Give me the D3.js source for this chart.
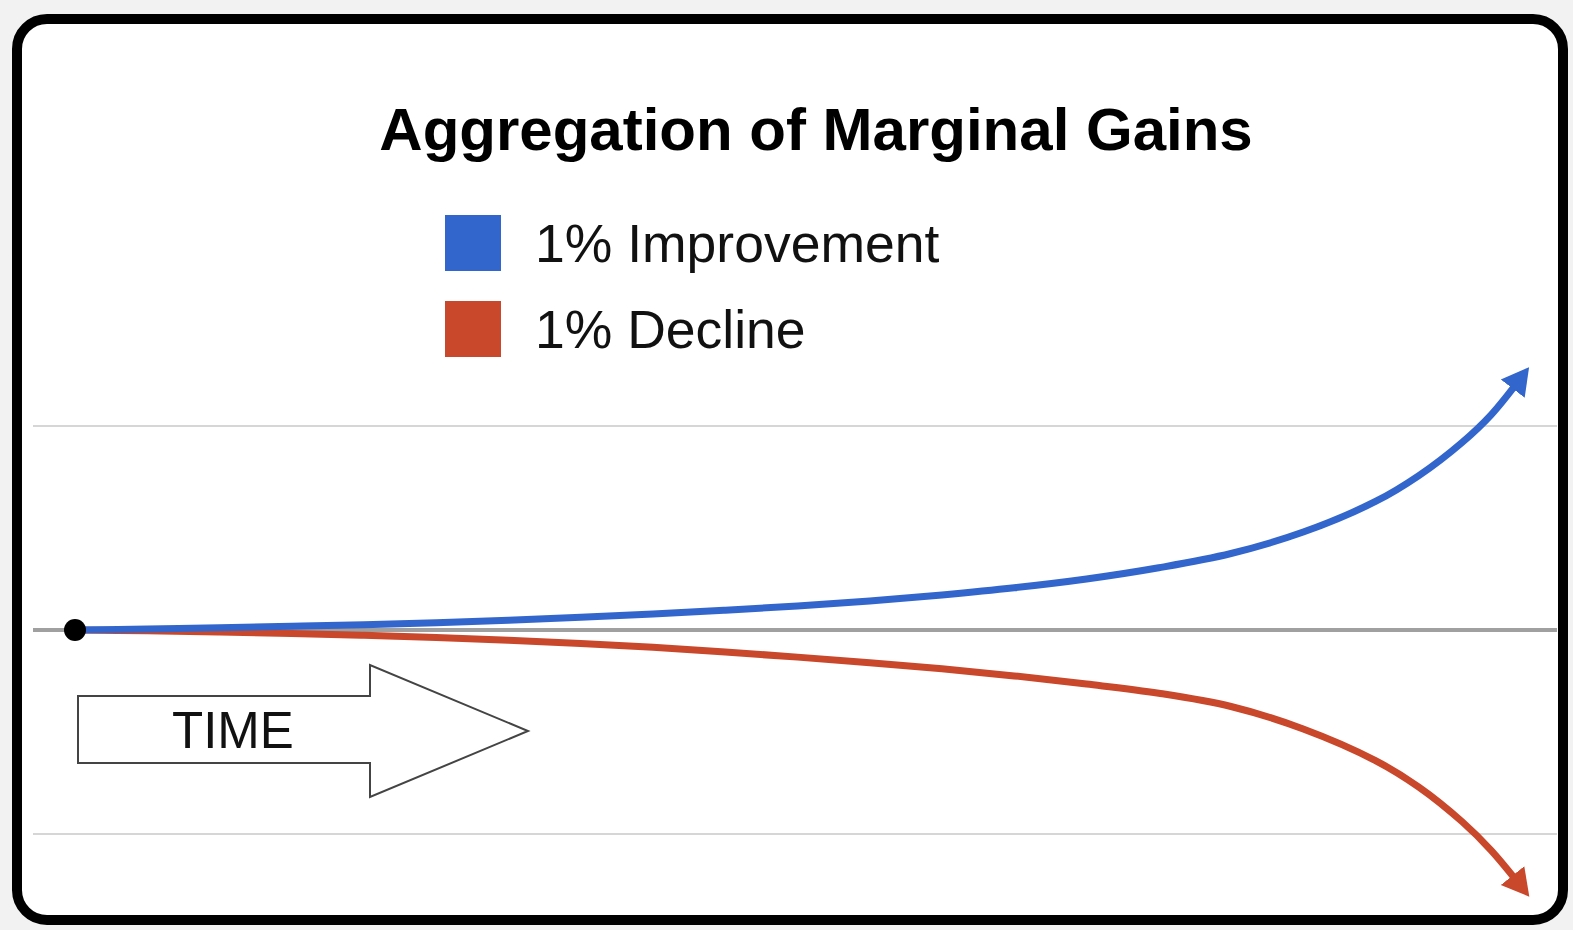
<!DOCTYPE html>
<html>
<head>
<meta charset="utf-8">
<script src="https://cdn.jsdelivr.net/npm/d3@7"></script>
<style>
  html, body { margin: 0; padding: 0; background: #f2f2f2; }
  svg { display: block; }
  text { font-family: "Liberation Sans", Arial, sans-serif; }
</style>
</head>
<body>
<svg id="plot"></svg>
<script>
// time steps (0 = start, 100 = end of curve)
const time = [0, 5, 10, 15, 20, 25, 30, 35, 40, 45, 50, 55, 60, 65, 70, 75, 80, 85, 90, 93, 96, 98, 100];
// growth relative to baseline (gridlines at +1 / -1)
const improvement = [0, 0.005, 0.011, 0.018, 0.026, 0.036, 0.048, 0.062, 0.078, 0.097, 0.118, 0.142, 0.172,
    0.207, 0.25, 0.305, 0.375, 0.48, 0.63, 0.757, 0.92, 1.055, 1.23];
const decline = [0, -0.004, -0.01, -0.017, -0.026, -0.037, -0.05, -0.066, -0.085, -0.108, -0.133, -0.16, -0.19,
    -0.225, -0.265, -0.31, -0.375, -0.485, -0.64, -0.77, -0.94, -1.08, -1.25];
const gridValues = [1, 0, -1];
const seriesNames = ["1% Improvement", "1% Decline"];
const seriesColors = ["#3366cc", "#c9472b"];
const titleText = "Aggregation of Marginal Gains";
const arrowLabel = "TIME";

svgWidth = 1573;
svgHeight = 930;

const svg = d3.select("#plot")
    .attr("width", svgWidth)
    .attr("height", svgHeight)
    .attr("viewBox", [0, 0, svgWidth, svgHeight]);

// card
svg.append("rect")
    .attr("x", 17).attr("y", 19)
    .attr("width", 1546).attr("height", 901)
    .attr("rx", 30).attr("ry", 30)
    .attr("fill", "white")
    .attr("stroke", "#000")
    .attr("stroke-width", 10);

x = d3.scaleLinear()
    .domain([0, 100])
    .range([75, 1520]);

y = d3.scaleLinear()
    .domain([-1, 1])
    .range([834, 426]);

// gridlines
svg.append("g")
    .selectAll("line")
    .data(gridValues)
    .join("line")
    .attr("x1", 33).attr("x2", 1557)
    .attr("y1", d => y(d)).attr("y2", d => y(d))
    .attr("stroke", d => d === 0 ? "#a0a0a0" : "#d6d6d6")
    .attr("stroke-width", d => d === 0 ? 4 : 2);

// title
svg.append("text")
    .text(titleText)
    .attr("x", 816).attr("y", 150)
    .attr("text-anchor", "middle")
    .attr("font-size", 60)
    .attr("font-weight", "bold")
    .attr("fill", "#000");

// legend
const legend = svg.append("g")
    .selectAll("g")
    .data(seriesNames)
    .join("g")
    .attr("transform", (d, i) => `translate(445,${215 + i * 86})`);

legend.append("rect")
    .attr("width", 56).attr("height", 56)
    .attr("fill", (d, i) => seriesColors[i]);

legend.append("text")
    .text(d => d)
    .attr("x", 90).attr("y", 47)
    .attr("font-size", 53.5)
    .attr("fill", "#111");

// arrow markers
const defs = svg.append("defs");
seriesColors.forEach((c, i) => {
    defs.append("marker")
        .attr("id", "head" + i)
        .attr("markerUnits", "userSpaceOnUse")
        .attr("viewBox", "0 -16 30 32")
        .attr("markerWidth", 30).attr("markerHeight", 32)
        .attr("refX", 12).attr("refY", 0)
        .attr("orient", "auto")
        .append("path")
        .attr("d", "M0,-15L27,0L0,15Z")
        .attr("fill", c);
});

line = d3.line()
    .x((d, i) => x(time[i]))
    .y(d => y(d))
    .curve(d3.curveCatmullRom);

svg.append("g")
    .selectAll("path")
    .data([decline, improvement])
    .join("path")
    .attr("fill", "none")
    .attr("stroke", (d, i) => seriesColors[1 - i])
    .attr("stroke-width", 7)
    .attr("marker-end", (d, i) => `url(#head${1 - i})`)
    .attr("d", line);

// start dot
svg.append("circle")
    .attr("cx", x(0)).attr("cy", y(0))
    .attr("r", 11)
    .attr("fill", "#000");

// TIME arrow
const arrow = [[78, 696], [370, 696], [370, 665], [528, 731], [370, 797], [370, 763], [78, 763]];
svg.append("path")
    .attr("d", d3.line()(arrow) + "Z")
    .attr("fill", "white")
    .attr("stroke", "#444")
    .attr("stroke-width", 2);

svg.append("text")
    .text(arrowLabel)
    .attr("x", 172).attr("y", 748)
    .attr("font-size", 51)
    .attr("fill", "#111");
</script>
</body>
</html>
